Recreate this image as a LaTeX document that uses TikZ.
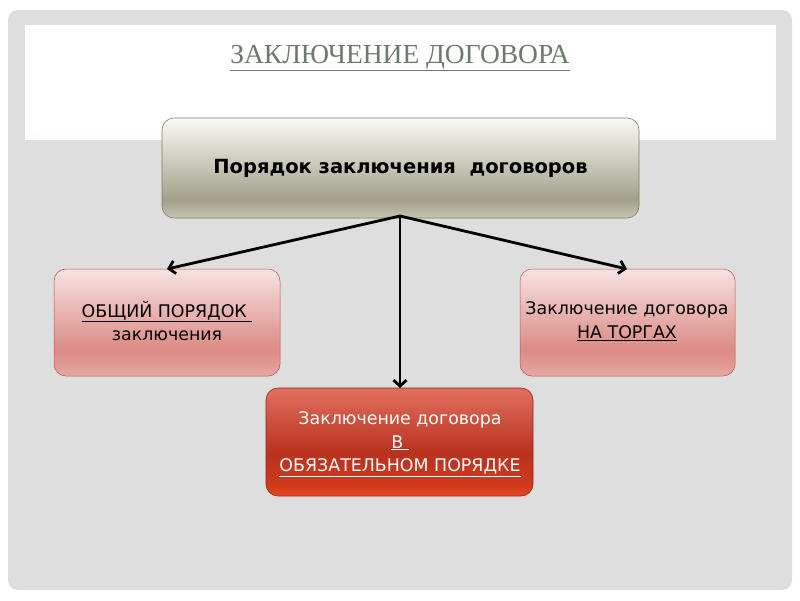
\documentclass[tikz,border=0pt]{standalone}
\usepackage{fontspec}
\setmainfont{DejaVu Sans}
\newfontfamily\titlefont{Liberation Serif}
\usetikzlibrary{arrows.meta}
\definecolor{bggray}{HTML}{DEDEDE}
\definecolor{titlecol}{HTML}{6B7A6B}
\definecolor{olivebd}{HTML}{7E7E66}
\definecolor{pinkbd}{HTML}{C0504D}
\definecolor{redbd}{HTML}{8A2A1A}
\definecolor{rA}{HTML}{E84A28}
\definecolor{rB}{HTML}{D33A1C}
\definecolor{rC}{HTML}{B8321F}
\definecolor{rD}{HTML}{E2705E}
\definecolor{pA}{HTML}{E4A8A4}
\definecolor{pB}{HTML}{DC8A84}
\definecolor{pC}{HTML}{F6E2E2}
\definecolor{oA}{HTML}{C8C6B4}
\definecolor{oB}{HTML}{A2A08A}
\definecolor{oC}{HTML}{FAFAF6}
\pgfdeclareverticalshading{redsh}{100bp}{color(0bp)=(rA); color(25bp)=(rA); color(29bp)=(rB); color(45bp)=(rC); color(75bp)=(rD); color(100bp)=(rD)}
\pgfdeclareverticalshading{pinksh}{100bp}{color(0bp)=(pA); color(25bp)=(pA); color(37bp)=(pB); color(75bp)=(pC); color(100bp)=(pC)}
\pgfdeclareverticalshading{olivesh}{100bp}{color(0bp)=(oA); color(25bp)=(oA); color(34bp)=(oB); color(75bp)=(oC); color(100bp)=(oC)}
\tikzset{
  topbox/.style={draw=olivebd, line width=0.6pt, rounded corners=12pt, shading=olivesh},
  pinkbox/.style={draw=pinkbd, line width=0.5pt, rounded corners=12pt, shading=pinksh},
  redbox/.style={draw=redbd, line width=0.6pt, rounded corners=12pt, shading=redsh},
  conn/.style={line width=2.8pt, -{Straight Barb[length=6pt,width=13pt,line width=2.8pt]}},
  lbl/.style={align=center, font=\fontsize{17.4}{23.5}\selectfont}
}
\begin{document}
\begin{tikzpicture}[x=1pt,y=-1pt]
\useasboundingbox (0,0) rectangle (800,600);
\fill[white] (0,0) rectangle (800,600);
\fill[bggray, rounded corners=10pt] (8,10) rectangle (792,590);
\fill[white!96!bggray] (25,25) rectangle (776,140);
\fill[white] (33,33) rectangle (768,132);
\node[text=titlecol, font=\titlefont\fontsize{27.5}{32}\selectfont] (title) at (400,58) {\underline{ЗАКЛЮЧЕНИЕ ДОГОВОРА}};
% boxes
\path[topbox] (162,118) rectangle (639,218);
\node[font=\bfseries\fontsize{19.5}{24}\selectfont] (top) at (400.5,168) {Порядок заключения\ \ договоров};
\coordinate (topbase) at (400,216);
\path[pinkbox] (54,269) rectangle (280,376);
\node[lbl] (left) at (167,321) {\underline{ОБЩИЙ ПОРЯДОК\ }\\заключения};
\path[pinkbox] (520,269) rectangle (735,376);
\node[lbl] (right) at (627,321) {Заключение договора\\\underline{НА ТОРГАХ}};
\path[redbox] (266,388) rectangle (533,496);
\node[lbl, text=white] (mid) at (400,444) {Заключение договора\\\underline{В\ }\\\underline{ОБЯЗАТЕЛЬНОМ ПОРЯДКЕ}};
\coordinate (lt) at (167,269);
\coordinate (rt) at (627,269);
\coordinate (mt) at (400,388);
\draw[conn] (topbase) -- (lt);
\draw[conn] (topbase) -- (rt);
\draw[conn] (topbase) -- (mt);
\end{tikzpicture}
\end{document}
